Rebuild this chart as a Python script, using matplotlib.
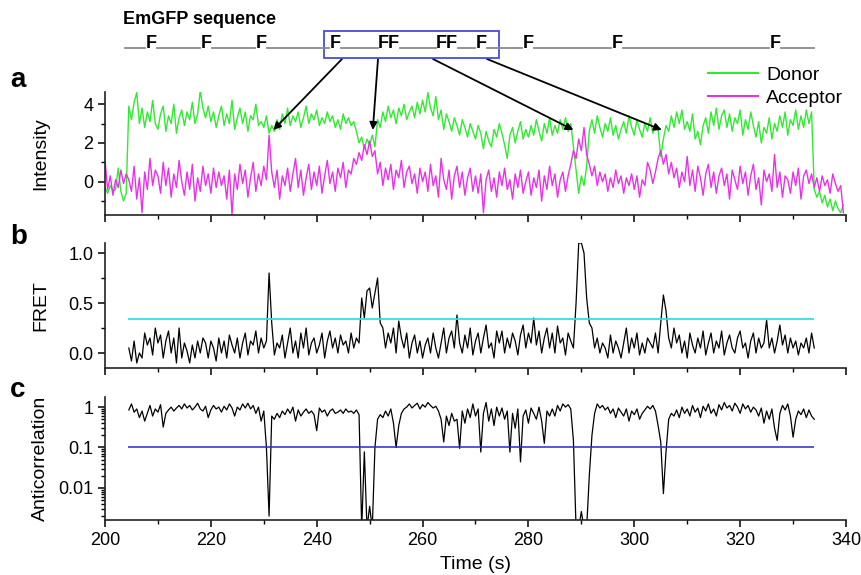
import numpy as np
import matplotlib
matplotlib.use("Agg")
import matplotlib.pyplot as plt
from matplotlib.ticker import MultipleLocator, FixedLocator, NullFormatter
from matplotlib.patches import Rectangle

plt.rcParams['font.family'] = ['Liberation Sans', 'DejaVu Sans']

# ── Data (0.5 s sampling) ─────────────────────────────────────────
t_int = np.arange(200.0, 340.0, 0.5)      # intensity traces
t_fret = np.arange(204.5, 334.5, 0.5)     # FRET / anticorrelation

donor = [
    -0.3, -0.6, -0.2, -0.5, -0.4, 0.7, -0.5, -1.0, -0.6, 3.9, 3.2, 4.1, 4.6, 3.0, 3.8, 2.8, 3.6, 3.1, 4.2, 3.0,
    2.7, 3.5, 3.9, 2.6, 3.4, 3.0, 4.0, 2.5, 3.3, 3.7, 2.9, 3.6, 3.2, 4.1, 3.0, 3.5, 4.7, 3.8, 3.3, 3.9,
    3.1, 3.6, 2.8, 3.4, 3.9, 2.9, 3.5, 3.0, 4.2, 2.7, 3.3, 3.8, 3.0, 3.6, 2.6, 3.4, 3.2, 4.0, 2.9, 3.1,
    2.8, 3.4, 2.5, 2.9, 2.6, 3.2, 2.7, 3.5, 3.0, 3.8, 2.9, 3.4, 3.1, 3.6, 2.8, 3.3, 3.9, 3.0, 3.5, 3.2,
    3.7, 2.9, 3.3, 3.0, 3.6, 3.1, 3.4, 2.8, 3.2, 2.7, 3.5, 3.0, 3.3, 2.9, 3.1, 2.6, 2.0, 2.3, 1.7, 2.2,
    1.9, 2.4, 1.8, 3.2, 2.8, 3.6, 3.1, 3.9, 3.3, 3.7, 3.0, 3.8, 3.4, 4.0, 3.2, 3.6, 3.9, 3.3, 4.1, 3.5,
    4.2, 3.6, 4.6, 3.8, 3.4, 4.4, 3.2, 3.7, 2.7, 3.5, 3.1, 2.6, 3.3, 2.9, 2.4, 3.2, 2.8, 2.3, 3.0, 2.6,
    2.2, 2.9, 2.5, 1.7, 2.6, 2.1, 1.8, 2.7, 2.3, 3.0, 2.5, 1.9, 1.2, 2.4, 2.8, 2.0, 2.6, 3.1, 2.2, 2.7,
    2.3, 2.9, 2.4, 3.2, 2.6, 2.1, 3.0, 2.5, 3.3, 2.4, 2.9, 2.5, 3.2, 2.7, 3.3, 2.6, 3.0, 1.8, 0.6, -0.6,
    0.3, -0.2, 0.8, 2.6, 3.2, 2.5, 3.4, 2.8, 2.3, 3.0, 2.6, 3.3, 2.4, 2.9, 2.2, 2.7, 3.1, 2.5, 3.4, 2.8,
    2.4, 3.2, 2.7, 2.3, 3.0, 2.6, 3.3, 2.5, 2.9, 2.7, 1.3, 2.2, 2.9, 2.6, 3.4, 2.8, 3.6, 3.0, 3.7, 2.7,
    3.1, 2.6, 3.5, 2.2, 2.6, 1.9, 2.9, 3.3, 2.5, 3.6, 2.9, 3.8, 2.7, 3.4, 3.7, 2.8, 3.5, 2.6, 3.3, 3.0,
    3.7, 2.4, 3.2, 2.7, 3.6, 2.9, 2.3, 3.1, 2.0, 2.8, 2.5, 3.3, 2.2, 3.0, 2.6, 3.4, 2.8, 3.6, 2.4, 3.2,
    2.9, 3.7, 2.7, 3.4, 2.8, 3.7, 3.0, 3.6, -0.4, -0.8, -0.5, -1.1, -0.7, -1.3, -0.9, -1.5, -1.0, -1.4, -1.6, -1.2,
]

acceptor = [
    1.1, -0.4, 0.3, -0.7, 0.1, -0.3, 0.6, -0.1, 0.4, 0.1, -0.5, 0.8, -0.9, 0.2, -1.6, 0.5, -0.4, 1.2, -0.2, 0.6,
    0.3, -0.6, 1.0, -0.2, 0.7, -0.8, 0.4, -0.3, 1.1, 0.0, -0.7, 0.5, -0.4, 0.9, -1.0, 0.2, -0.5, 0.8, -0.2, 0.4,
    -0.6, 0.7, -0.3, 0.5, -0.2, 0.3, -0.9, 0.6, -1.7, 0.4, -0.4, 0.9, -0.1, 0.6, -0.8, 0.2, 1.0, -0.5, 0.4, -0.2,
    0.8, 0.1, 2.4, 0.5, -0.3, 0.6, -0.9, 0.3, -0.2, 0.7, -0.5, 0.4, 1.2, -0.3, 0.6, -0.7, 0.2, 0.9, -0.4, 0.5,
    -0.2, 0.8, -0.6, 0.3, 1.1, -0.1, 0.5, -0.5, 0.7, 0.2, 1.0, -0.3, 0.6, 0.4, 1.2, 0.9, 1.5, 1.1, 1.9, 1.4,
    2.1, 1.3, 1.6, 0.4, 1.0, -0.2, 0.7, 0.1, 0.9, -0.4, 0.6, 0.2, 1.1, -0.3, 0.5, 0.8, -0.1, 0.4, -0.6, 0.7,
    0.0, 0.5, -0.5, 0.9, -0.2, 0.3, -0.8, 1.2, 0.1, -0.4, 0.6, -0.9, 0.3, 0.8, -0.3, 0.5, -0.7, 0.2, 0.7, -0.5,
    0.3, -0.6, 0.4, -1.6, 0.1, 0.6, -0.5, 0.2, -0.8, 0.5, -0.2, 0.7, -0.4, 0.1, -0.9, 0.4, -0.3, 0.6, -0.6, 0.0,
    0.5, -0.7, 0.2, -0.3, 0.6, -1.0, 0.3, -0.4, 0.8, -0.2, 0.4, -0.8, 0.1, 0.5, -0.5, 0.3, 0.9, 1.6, 1.2, 2.2,
    1.6, 2.8, 1.4, 0.9, 0.3, 0.8, -0.2, 0.5, 0.0, 0.4, -0.5, 0.2, -0.3, 0.6, -0.1, 0.3, -0.6, 0.2, -0.2, 0.4,
    -0.4, 0.3, -0.8, 0.1, -0.2, 1.0, 0.6, -0.1, 0.5, 1.2, 1.6, 0.9, 1.4, 0.4, 1.0, 0.2, 0.7, -0.3, 0.5, 0.0,
    1.3, -0.2, 0.6, -0.5, 0.8, 0.2, -0.7, 0.4, 0.9, -0.3, 0.5, -0.6, 0.3, 0.7, -0.2, 0.4, -0.9, 0.6, 0.1, -0.4,
    0.8, -0.1, 0.5, -0.7, 0.3, 0.9, -0.4, 0.2, -1.2, 0.6, 0.0, 0.4, -0.5, 1.4, -0.3, 0.5, -0.8, 0.3, 0.1, -0.6,
    0.5, -0.2, 0.7, -0.9, 0.3, 0.6, -0.1, 0.4, -0.3, 0.2, -0.5, 0.3, -0.2, 0.1, -0.6, 0.4, -0.1, -0.5, -0.2, -1.6,
]

fret = [
    0.05, -0.08, 0.12, -0.1, 0.0, -0.05, 0.2, 0.08, 0.15, -0.02, 0.25, 0.1, 0.18, -0.05, 0.12, 0.22, 0.0, 0.15, -0.1, 0.25,
    -0.05, 0.1, 0.02, -0.1, 0.08, -0.05, 0.12, 0.0, 0.15, 0.1, -0.05, 0.12, 0.05, -0.08, 0.15, 0.0, 0.12, -0.05, 0.18, 0.08,
    0.0, 0.15, -0.05, 0.1, 0.2, -0.02, 0.12, 0.08, 0.22, 0.0, 0.15, 0.05, 0.12, 0.8, 0.3, -0.02, 0.1, 0.05, 0.18, -0.05,
    0.1, 0.25, 0.0, 0.12, -0.05, 0.2, 0.05, 0.25, -0.02, 0.1, 0.15, 0.0, 0.08, 0.2, -0.05, 0.12, 0.22, 0.05, 0.15, 0.0,
    0.18, 0.08, 0.12, 0.0, 0.2, 0.05, 0.15, 0.1, 0.55, 0.35, 0.62, 0.65, 0.45, 0.6, 0.75, 0.3, 0.25, 0.05, 0.2, 0.1,
    0.25, 0.0, 0.32, 0.15, 0.05, 0.2, -0.05, 0.1, 0.18, 0.0, 0.12, -0.05, 0.08, 0.15, 0.0, 0.2, 0.05, -0.05, 0.1, 0.25,
    0.0, 0.15, 0.22, 0.05, 0.38, 0.1, 0.0, 0.18, 0.05, 0.25, -0.02, 0.12, 0.2, 0.0, 0.15, 0.28, 0.05, 0.1, -0.05, 0.22,
    0.1, 0.22, 0.0, 0.15, 0.05, 0.2, 0.12, -0.02, 0.18, 0.28, 0.05, 0.2, 0.1, 0.35, 0.08, 0.22, 0.0, 0.15, 0.25, 0.05,
    0.2, 0.0, 0.27, 0.1, 0.15, -0.02, 0.2, 0.12, 0.05, 0.5, 1.1, 1.1, 1.0, 0.55, 0.3, 0.25, 0.05, 0.15, 0.0, 0.1,
    0.05, -0.05, 0.18, 0.0, 0.12, 0.05, -0.05, 0.1, 0.25, 0.0, 0.15, 0.05, 0.2, -0.02, 0.1, 0.0, 0.15, 0.1, 0.05, 0.2,
    0.0, 0.3, 0.58, 0.42, 0.15, 0.05, 0.25, 0.1, 0.18, 0.0, 0.12, -0.05, 0.2, 0.08, 0.0, 0.15, 0.05, 0.22, -0.02, 0.1,
    0.2, 0.0, 0.12, 0.05, 0.22, -0.02, 0.1, 0.18, 0.05, 0.0, 0.15, 0.22, 0.05, 0.1, -0.05, 0.12, 0.2, 0.0, 0.15, 0.05,
    0.1, 0.33, 0.05, 0.15, 0.0, 0.12, 0.28, 0.08, 0.18, 0.0, 0.15, 0.05, 0.12, -0.02, 0.1, 0.05, 0.15, 0.0, 0.2, 0.05,
]

anticorr = [
    0.85, 1.2, 0.75, 0.9, 0.55, 0.8, 0.45, 0.7, 1.1, 0.6, 0.9, 0.75, 1.15, 0.32, 0.7, 0.85, 1.0, 0.8, 0.95, 1.1,
    0.9, 1.2, 0.95, 1.1, 0.85, 1.0, 1.25, 0.9, 0.8, 1.05, 0.55, 0.85, 1.1, 0.9, 1.0, 0.75, 1.05, 0.85, 1.2, 0.95,
    0.6, 1.0, 0.85, 1.2, 0.95, 1.25, 0.9, 1.1, 0.7, 1.0, 0.45, 0.8, 0.1, 0.002, 0.6, 0.5, 0.7, 0.55, 0.8, 0.65,
    0.9, 0.7, 1.0, 0.45, 0.85, 0.6, 0.75, 0.9, 0.7, 0.8, 0.65, 0.26, 0.95, 0.75, 0.85, 0.6, 0.8, 0.9, 0.7, 0.75,
    0.85, 0.7, 0.9, 0.75, 0.8, 0.7, 0.85, 0.65, 0.001, 0.078, 0.001, 0.0035, 0.001, 0.1, 0.5, 0.65, 0.55, 0.8, 0.6, 0.9,
    0.4, 0.1, 0.35, 0.7, 0.9, 1.0, 1.2, 0.95, 1.1, 1.25, 0.9, 1.15, 1.0, 1.3, 1.1, 0.95, 1.05, 0.8, 0.5, 0.137,
    0.6, 0.35, 0.7, 0.45, 0.5, 0.095, 0.8, 0.4, 0.9, 0.55, 1.2, 0.6, 0.9, 0.077, 0.7, 1.3, 0.45, 0.9, 0.35, 1.0,
    0.6, 0.95, 0.5, 0.8, 0.077, 0.7, 0.3, 0.9, 0.044, 0.6, 0.85, 0.4, 0.95, 0.7, 0.5, 1.0, 0.45, 0.127, 0.8, 0.6,
    0.9, 0.6, 1.1, 0.8, 1.2, 1.0, 1.15, 0.9, 0.15, 0.001, 0.001, 0.0026, 0.001, 0.001, 0.02, 0.2, 0.7, 1.2, 0.95, 1.1,
    0.85, 1.0, 0.7, 0.9, 0.55, 0.95, 0.75, 0.6, 0.9, 0.45, 0.8, 0.65, 0.9, 0.5, 0.7, 0.85, 1.05, 0.9, 1.1, 0.8,
    0.35, 0.137, 0.0072, 0.08, 0.5, 0.7, 0.6, 0.85, 0.55, 1.0, 0.7, 0.9, 0.6, 1.1, 0.75, 0.95, 0.55, 1.05, 0.8, 1.2,
    0.7, 0.9, 0.6, 1.15, 0.85, 1.3, 0.95, 1.1, 0.8, 1.25, 1.0, 0.7, 1.2, 0.9, 1.1, 0.75, 1.0, 0.85, 0.6, 0.95,
    0.4, 0.8, 0.5, 0.9, 0.3, 0.15, 0.7, 1.1, 0.85, 1.2, 0.6, 0.18, 0.5, 0.8, 0.65, 0.9, 0.55, 0.85, 0.6, 0.5,
]

fret_threshold = 0.337
anticorr_threshold = 0.1
threshold_span = (204.3, 334.0)

# events marked in the sequence box -> arrow tips (time, intensity)
event_tips = [(231.8, 2.67), (250.6, 2.67), (288.5, 2.67), (305.2, 2.67)]
arrow_tails_px = [342, 378, 433, 487]   # x of arrow tails on box edge

# sequence schematic: F labels and their x positions (figure px)
seq_labels = ["F", "F", "F", "F", "FF", "FF", "F", "F", "F", "F"]
seq_pos_px = [151, 206, 261, 335, 389, 447, 481, 528, 617, 775]

GREEN = "#33e833"
MAGENTA = "#e633e6"

W, H = 861, 575


def fig_xy(x, y):
    """pixel (top-left origin) -> figure fraction"""
    return x / W, 1 - y / H


fig = plt.figure(figsize=(W / 100, H / 100), dpi=100)

left, width = 105 / W, 741 / W
ax_a = fig.add_axes([left, 1 - 215 / H, width, 123 / H])
ax_b = fig.add_axes([left, 1 - 368 / H, width, 125 / H])
ax_c = fig.add_axes([left, 1 - 520 / H, width, 123 / H])

# ── a: intensities ────────────────────────────────────────────────
ax_a.plot(t_int, donor, color=GREEN, lw=1.0, label="Donor")
ax_a.plot(t_int, acceptor, color=MAGENTA, lw=1.0, label="Acceptor")
ax_a.set_ylim(-1.72, 4.63)
ax_a.yaxis.set_major_locator(FixedLocator([0, 2, 4]))
ax_a.yaxis.set_minor_locator(MultipleLocator(1))
ax_a.set_ylabel("Intensity")
leg = ax_a.legend(loc="upper right", bbox_to_anchor=fig_xy(843, 66),
                  bbox_transform=fig.transFigure, frameon=False, fontsize=14,
                  handlelength=2.6, handletextpad=0.4, labelspacing=0.3,
                  borderaxespad=0, borderpad=0)
for line in leg.get_lines():
    line.set_linewidth(1.5)

# ── b: FRET ───────────────────────────────────────────────────────
ax_b.plot(t_fret, fret, color="black", lw=0.9)
ax_b.hlines(fret_threshold, *threshold_span, color="#33e0e0", lw=1.3)
ax_b.set_ylim(-0.15, 1.1)
ax_b.yaxis.set_major_locator(FixedLocator([0.0, 0.5, 1.0]))
ax_b.yaxis.set_minor_locator(MultipleLocator(0.25))
ax_b.yaxis.set_major_formatter(matplotlib.ticker.FormatStrFormatter("%.1f"))
ax_b.set_ylabel("FRET")

# ── c: anticorrelation ────────────────────────────────────────────
ax_c.plot(t_fret, anticorr, color="black", lw=0.9)
ax_c.hlines(anticorr_threshold, *threshold_span, color="#2a2ad0", lw=1.1)
ax_c.set_yscale("log")
ax_c.set_ylim(0.0016, 1.78)
ax_c.yaxis.set_major_locator(FixedLocator([0.01, 0.1, 1]))
ax_c.yaxis.set_major_formatter(matplotlib.ticker.FixedFormatter(["0.01", "0.1", "1"]))
ax_c.yaxis.set_minor_locator(matplotlib.ticker.LogLocator(base=10, subs=np.arange(2, 10)))
ax_c.yaxis.set_minor_formatter(NullFormatter())
ax_c.set_ylabel("Anticorrelation")
ax_c.set_xlabel("Time (s)", fontsize=14, labelpad=5)

for ax in (ax_a, ax_b, ax_c):
    ax.set_xlim(200, 340)
    ax.xaxis.set_major_locator(MultipleLocator(20))
    ax.xaxis.set_minor_locator(MultipleLocator(10))
    ax.spines["top"].set_visible(False)
    ax.spines["right"].set_visible(False)
    for s in ("left", "bottom"):
        ax.spines[s].set_linewidth(1.2)
        ax.spines[s].set_color("#222222")
    ax.tick_params(which="major", direction="out", length=5, width=1.1, labelsize=13)
    ax.tick_params(which="minor", direction="out", length=3, width=1.0)
    ax.yaxis.label.set_size(14)
    ax.yaxis.set_label_coords(-0.075, 0.5)
    ax.set_facecolor("none")
for ax in (ax_a, ax_b):
    ax.tick_params(axis="x", labelbottom=False)

# ── panel letters ─────────────────────────────────────────────────
for letter, ypx in (("a", 80), ("b", 237), ("c", 390)):
    fig.text(*fig_xy(10, ypx), letter, fontsize=20, fontweight="bold", va="center", ha="left")

# ── sequence schematic ────────────────────────────────────────────
fig.text(*fig_xy(123, 20), "EmGFP sequence", fontsize=13, fontweight="bold", va="center", ha="left")
seq_y = 48
edges = [125]
for lab, xp in zip(seq_labels, seq_pos_px):
    half = 5 if lab == "F" else 10
    edges += [xp - half - 1, xp + half + 1]
edges.append(814)
for x0, x1 in zip(edges[0::2], edges[1::2]):
    fig.add_artist(plt.Line2D([x0 / W, x1 / W], [1 - seq_y / H] * 2,
                              color="#8a8a8a", lw=1.3, transform=fig.transFigure))
for lab, xp in zip(seq_labels, seq_pos_px):
    fig.text(*fig_xy(xp, 44), lab, fontsize=13, fontweight="bold", ha="center", va="center")

box_x0, box_x1, box_y0, box_y1 = 324, 499, 31, 58
fig.add_artist(Rectangle(fig_xy(box_x0, box_y1), (box_x1 - box_x0) / W, (box_y1 - box_y0) / H,
                         transform=fig.transFigure, fill=False, edgecolor="#4a4ae0", lw=1.3))

for (tx, ty), xp in zip(event_tips, arrow_tails_px):
    ax_a.annotate("", xy=(tx, ty), xycoords="data",
                  xytext=fig_xy(xp, box_y1 + 1), textcoords="figure fraction",
                  arrowprops=dict(arrowstyle="-|>", color="black", lw=1.3,
                                  mutation_scale=11, shrinkA=0, shrinkB=0),
                  annotation_clip=False)

fig.savefig("out.png", dpi=100)
